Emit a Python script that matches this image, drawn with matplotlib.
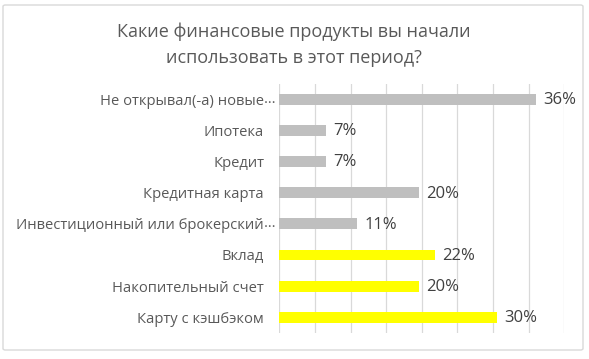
import matplotlib
matplotlib.use("Agg")
import matplotlib.pyplot as plt
from matplotlib.patches import FancyBboxPatch
from matplotlib.transforms import offset_copy, blended_transform_factory

categories = ["Не открывал(-а) новые…", "Ипотека", "Кредит", "Кредитная карта",
              "Инвестиционный или брокерский…", "Вклад", "Накопительный счет", "Карту с кэшбэком"]
values = [36.0, 6.5, 6.5, 19.6, 10.9, 21.8, 19.6, 30.5]
value_labels = ["36%", "7%", "7%", "20%", "11%", "22%", "20%", "30%"]
colors = ["#BFBFBF"] * 5 + ["#FFFF00"] * 3
xticks = [0, 5, 10, 15, 20, 25, 30, 35, 40]
title = "Какие финансовые продукты вы начали\nиспользовать в этот период?"

plt.rcParams['font.family'] = ['Open Sans', 'DejaVu Sans']
W, H = 589, 359
fig = plt.figure(figsize=(W / 100, H / 100), dpi=100)

# chart border
border = FancyBboxPatch((3 / W, 9 / H), 580 / W, 345 / H, boxstyle="round,pad=0,rounding_size=0.004",
                        transform=fig.transFigure, facecolor="none", edgecolor="#D9D9D9", linewidth=1,
                        zorder=-10)
fig.patches.append(border)

left, right, top, bottom = 279.3, 564.3, 84, 332.7
ax = fig.add_axes([left / W, 1 - bottom / H, (right - left) / W, (bottom - top) / H])
ax.set_facecolor("none")

n = len(categories)
ypos = list(range(n))
ax.barh(ypos, values, height=0.35, color=colors, zorder=3)
ax.set_ylim(n - 0.5, -0.5)
ax.set_xlim(xticks[0], xticks[-1])
ax.set_xticks(xticks)
ax.grid(axis="x", color="#D9D9D9", linewidth=0.9, zorder=0)
ax.tick_params(axis="x", length=0, labelbottom=False)
lab_fs = 10.6
ax.tick_params(axis="y", length=0, pad=11, labelsize=lab_fs, labelcolor="#595959")
for s in ax.spines.values():
    s.set_visible(False)

display_labels = [c.rstrip("…") for c in categories]
ax.set_yticks(ypos)
ax.set_yticklabels(display_labels)

btr = blended_transform_factory(ax.transAxes, ax.transData)
for i, c in enumerate(categories):
    if c.endswith("…"):
        tr = offset_copy(btr, fig=fig, x=-15, y=0, units="dots")
        ax.text(0, i, "…", transform=tr, ha="left", va="center", fontsize=lab_fs, color="#595959")

for i, (v, lab) in enumerate(zip(values, value_labels)):
    ax.annotate(lab, (v, i), xytext=(5.5, -0.5), textcoords="offset points", ha="left", va="center",
                fontsize=12, color="#404040")

fig.text(294 / W, 1 - 45 / H, title, ha="center", va="center", fontsize=13, color="#595959",
         linespacing=1.6)

fig.savefig("out.png", dpi=100)
